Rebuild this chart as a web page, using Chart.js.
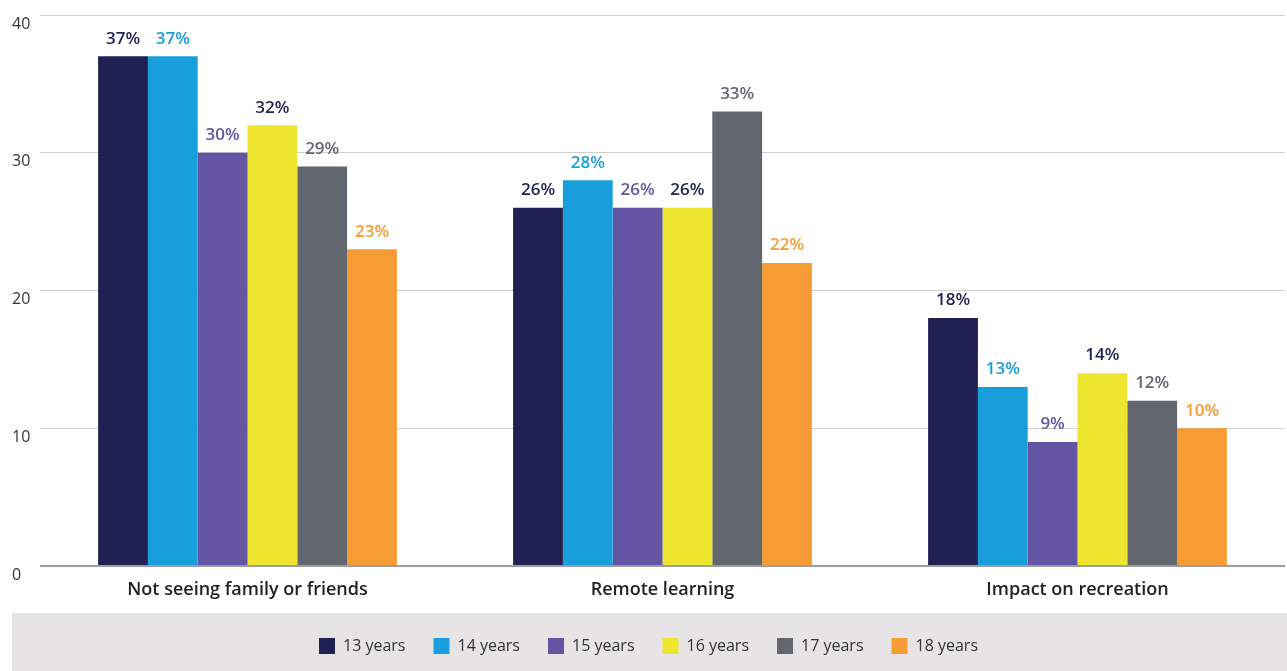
<!DOCTYPE html>
<html>
<head>
<meta charset="utf-8">
<script src="https://cdn.jsdelivr.net/npm/chart.js@4"></script>
<style>
  html, body { margin: 0; padding: 0; background: #fff; }
  canvas { display: block; }
</style>
</head>
<body>
<canvas id="reasonsChart" width="1287" height="671"></canvas>
<script>
const categories = ['Not seeing family or friends', 'Remote learning', 'Impact on recreation'];
const ageGroups = ['13 years', '14 years', '15 years', '16 years', '17 years', '18 years'];
const age13 = [37, 26, 18];
const age14 = [37, 28, 13];
const age15 = [30, 26, 9];
const age16 = [32, 26, 14];
const age17 = [29, 33, 12];
const age18 = [23, 22, 10];
const yTicks = [0, 10, 20, 30, 40];

const barColors = ['#1f2152', '#189fdb', '#6354a4', '#efe52e', '#62666e', '#f79c34'];
const labelColors = ['#1f2152', '#189fdb', '#6354a4', '#1f2152', '#62666e', '#f79c34'];
const FONT = "'Open Sans', sans-serif";

// value labels above each bar
const valueLabels = {
    id: 'valueLabels',
    afterDatasetsDraw(chart) {
        const ctx = chart.ctx;
        ctx.save();
        ctx.font = '600 17px ' + FONT;
        ctx.textAlign = 'center';
        ctx.textBaseline = 'bottom';
        chart.data.datasets.forEach((ds, i) => {
            const meta = chart.getDatasetMeta(i);
            ctx.fillStyle = labelColors[i];
            meta.data.forEach((bar, j) => {
                ctx.fillText(ds.data[j] + '%', bar.x, bar.y - 9);
            });
        });
        ctx.restore();
    }
};

// grey strip behind the legend
const legendBand = {
    id: 'legendBand',
    beforeDraw(chart) {
        const ctx = chart.ctx;
        const top = chart.legend.top + 3;
        ctx.save();
        ctx.fillStyle = '#e6e4e5';
        ctx.fillRect(12, top, chart.width - 12, chart.height - top);
        ctx.restore();
    }
};

const datasets = [age13, age14, age15, age16, age17, age18].map((values, i) => ({
    label: ageGroups[i],
    data: values,
    backgroundColor: barColors[i],
    borderWidth: 0,
    barPercentage: 1,
    categoryPercentage: 0.72
}));

const ctx = document.getElementById('reasonsChart').getContext('2d');
const reasonsChart = new Chart(ctx, {
    type: 'bar',
    data: {
        labels: categories,
        datasets: datasets
    },
    options: {
        responsive: false,
        animation: false,
        layout: {
            padding: { top: 15, right: 2, bottom: 7, left: 12 }
        },
        scales: {
            y: {
                min: 0,
                max: 40,
                afterFit(scale) { scale.width = 28; },
                afterBuildTicks(scale) { scale.ticks = yTicks.map(v => ({ value: v })); },
                border: { display: false },
                grid: {
                    drawTicks: false,
                    color: (c) => c.tick && c.tick.value === 0 ? '#9d9d9f' : '#cfcfcf',
                    lineWidth: (c) => c.tick && c.tick.value === 0 ? 2 : 1
                },
                ticks: {
                    padding: 0,
                    crossAlign: 'far',
                    labelOffset: 9,
                    color: '#333333',
                    font: { family: FONT, size: 16 }
                }
            },
            x: {
                afterFit(scale) { scale.height = 44; },
                border: { display: false },
                grid: { display: false },
                ticks: {
                    padding: 5,
                    color: '#222222',
                    font: { family: FONT, size: 18, weight: '600' }
                }
            }
        },
        plugins: {
            legend: {
                position: 'bottom',
                labels: {
                    boxWidth: 16,
                    boxHeight: 16,
                    padding: 28,
                    color: '#333333',
                    font: { family: FONT, size: 16 }
                }
            },
            tooltip: { enabled: false }
        }
    },
    plugins: [legendBand, valueLabels]
});
</script>
</body>
</html>
